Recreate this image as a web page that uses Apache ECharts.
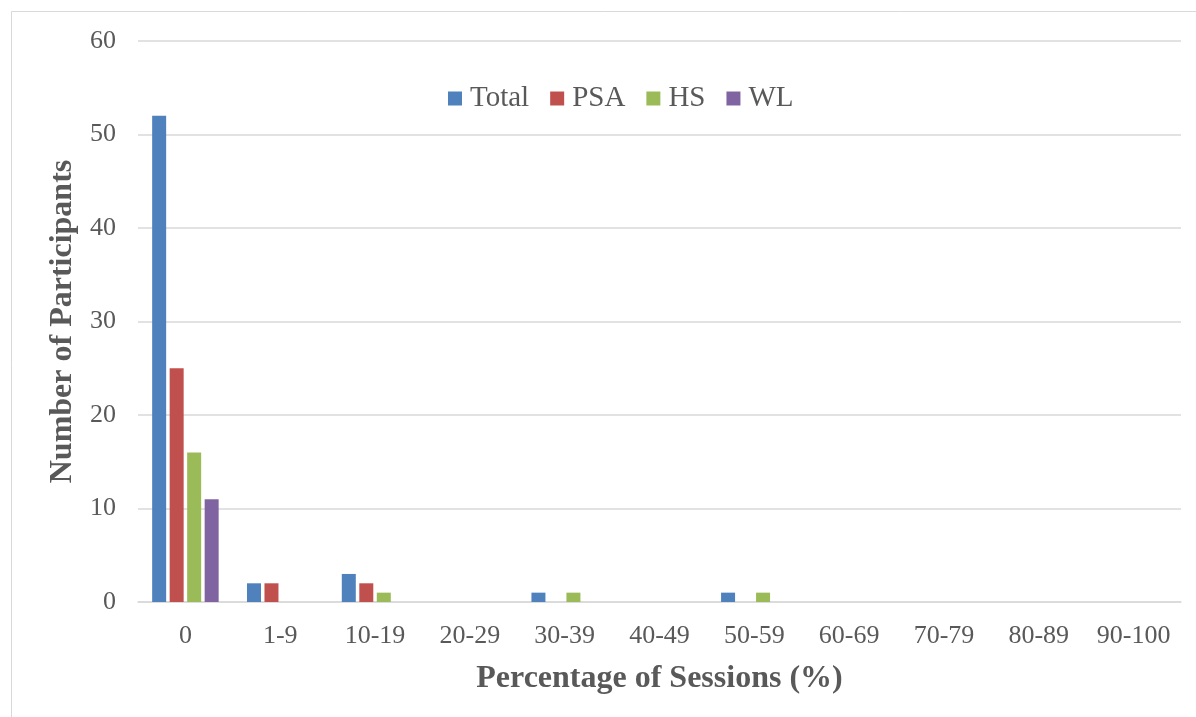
<!DOCTYPE html>
<html>
<head>
<meta charset="utf-8">
<script src="https://cdn.jsdelivr.net/npm/echarts@6/dist/echarts.min.js"></script>
<style>
  html, body { margin: 0; padding: 0; background: #fff; }
  #chart { width: 1196px; height: 717px; }
</style>
</head>
<body>
<div id="chart"></div>
<script>
// Session-percentage bins on the x axis
const categories = ['0', '1-9', '10-19', '20-29', '30-39', '40-49', '50-59', '60-69', '70-79', '80-89', '90-100'];

// Participant counts per group
const totalCounts = [52, 2, 3, 0, 1, 0, 1, 0, 0, 0, 0];
const psaCounts   = [25, 2, 2, 0, 0, 0, 0, 0, 0, 0, 0];
const hsCounts    = [16, 0, 1, 0, 1, 0, 1, 0, 0, 0, 0];
const wlCounts    = [11, 0, 0, 0, 0, 0, 0, 0, 0, 0, 0];

const seriesNames = ['Total', 'PSA', 'HS', 'WL'];
const seriesColors = ['#4f81bd', '#c0504d', '#9bbb59', '#8064a2'];
const seriesData = [totalCounts, psaCounts, hsCounts, wlCounts];

const FONT = '"Liberation Serif", "Times New Roman", serif';
const TEXT = '#595959';

const chart = echarts.init(document.getElementById('chart'), null, { renderer: 'canvas' });

chart.setOption({
  animation: false,
  backgroundColor: '#fff',
  graphic: [{
    type: 'rect',
    shape: { x: 11.5, y: 11.5, width: 1200, height: 720 },
    style: { fill: 'none', stroke: '#d9d9d9', lineWidth: 1 },
    silent: true,
    z: -10
  }],
  legend: {
    top: 79,
    left: 443,
    itemWidth: 14,
    itemHeight: 14,
    itemGap: 21,
    icon: 'rect',
    textStyle: { fontFamily: FONT, fontSize: 29, color: TEXT, padding: [0, 0, 0, 3] },
    data: seriesNames
  },
  grid: {
    left: 138,
    right: 15,
    top: 41,
    bottom: 115,
    containLabel: false
  },
  xAxis: {
    type: 'category',
    data: categories,
    axisTick: { show: false },
    axisLine: { show: true, lineStyle: { color: '#d9d9d9', width: 1.5 } },
    axisLabel: { fontFamily: FONT, fontSize: 26, color: TEXT, margin: 21, interval: 0 },
    name: 'Percentage of Sessions (%)',
    nameLocation: 'middle',
    nameGap: 61,
    nameTextStyle: { fontFamily: FONT, fontSize: 32, fontWeight: 'bold', color: TEXT }
  },
  yAxis: {
    type: 'value',
    min: 0,
    max: 60,
    interval: 10,
    axisLine: { show: false },
    axisTick: { show: false },
    splitLine: { lineStyle: { color: '#d9d9d9', width: 1.5 } },
    axisLabel: { fontFamily: FONT, fontSize: 26, color: TEXT, margin: 22 },
    name: 'Number of Participants',
    nameLocation: 'middle',
    nameGap: 56,
    nameRotate: 90,
    nameTextStyle: { fontFamily: FONT, fontSize: 32, fontWeight: 'bold', color: TEXT }
  },
  series: seriesNames.map((name, i) => ({
    name: name,
    type: 'bar',
    data: seriesData[i],
    barWidth: 14,
    barGap: '25%',
    itemStyle: { color: seriesColors[i] }
  }))
});
</script>
</body>
</html>
